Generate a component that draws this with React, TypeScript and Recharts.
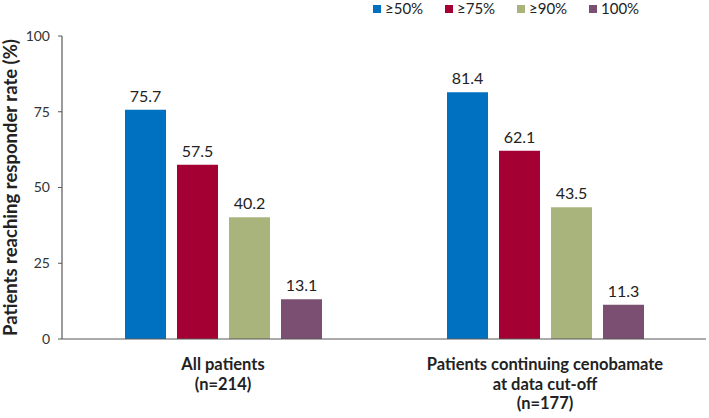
import { BarChart, Bar, XAxis, YAxis, Legend, LabelList } from "recharts";

const groups = ["All patients\n(n=214)", "Patients continuing cenobamate\nat data cut-off\n(n=177)"];
const ge50 = [75.7, 81.4];
const ge75 = [57.5, 62.1];
const ge90 = [40.2, 43.5];
const full = [13.1, 11.3];
const yTicks = [0, 25, 50, 75, 100];
const edges = [0, 1, 2];

const series = [
  { key: "ge50", name: "≥50%", color: "#0070C0" },
  { key: "ge75", name: "≥75%", color: "#A50034" },
  { key: "ge90", name: "≥90%", color: "#A9B47D" },
  { key: "full", name: "100%", color: "#7B4F72" },
];

const FONT = "Lato, 'Open Sans', sans-serif";
const AXIS = "#595959";

const data = groups.map((g, i) => ({
  group: g,
  ge50: ge50[i],
  ge75: ge75[i],
  ge90: ge90[i],
  full: full[i],
}));

// multi-line bold category labels
function GroupTick(props: any) {
  const { x, y, payload } = props;
  const lines = String(payload.value).split("\n");
  return (
    <text x={x} y={y} textAnchor="middle" fill="#222" fontSize={16.5} fontWeight="bold" fontFamily={FONT}>
      {lines.map((l, i) => (
        <tspan key={i} x={x} dy={i === 0 ? 31 : 19.5}>
          {l}
        </tspan>
      ))}
    </text>
  );
}

function LegendBox() {
  return (
    <div style={{ display: "flex", fontFamily: FONT, fontSize: 15, color: "#222", lineHeight: "17px" }}>
      {series.map((s) => (
        <div key={s.key} style={{ width: 72, display: "flex", alignItems: "center" }}>
          <span style={{ width: 8, height: 8, background: s.color, marginRight: 4, display: "inline-block" }} />
          <span>{s.name}</span>
        </div>
      ))}
    </div>
  );
}

export default function App() {
  return (
    <div style={{ position: "absolute", left: 0, top: 0, background: "#fff" }}>
      <BarChart
        width={709}
        height={418}
        data={data}
        margin={{ top: 19, right: 3, bottom: 0, left: 0 }}
        barSize={41}
        barGap={11}
      >
        <XAxis
          xAxisId="edge"
          type="number"
          domain={[0, 2]}
          ticks={edges}
          tick={false}
          axisLine={false}
          tickLine={{ stroke: AXIS }}
          tickSize={5}
          height={0}
        />
        <XAxis
          dataKey="group"
          interval={0}
          tick={<GroupTick />}
          tickLine={false}
          tickSize={0}
          tickMargin={0}
          axisLine={{ stroke: AXIS, strokeWidth: 1.2 }}
          height={79}
        />
        <YAxis
          domain={[0, 100]}
          ticks={yTicks}
          width={62}
          tickSize={4}
          tickMargin={8}
          axisLine={{ stroke: AXIS, strokeWidth: 1.2 }}
          tickLine={{ stroke: AXIS }}
          tick={{ fill: "#333", fontSize: 14, fontFamily: FONT }}
          label={{
            value: "Patients reaching responder rate (%)",
            angle: -90,
            position: "insideLeft",
            offset: 10,
            style: { textAnchor: "middle", fontWeight: "bold", fontSize: 18.5, fill: "#222", fontFamily: FONT },
          }}
        />
        <Legend verticalAlign="top" content={<LegendBox />} wrapperStyle={{ top: 0, left: 373, width: 300, height: 17 }} />
        {series.map((s) => (
          <Bar key={s.key} dataKey={s.key} name={s.name} fill={s.color} isAnimationActive={false}>
            <LabelList dataKey={s.key} position="top" offset={8} fill="#222" fontSize={16} fontFamily={FONT} />
          </Bar>
        ))}
      </BarChart>
    </div>
  );
}
